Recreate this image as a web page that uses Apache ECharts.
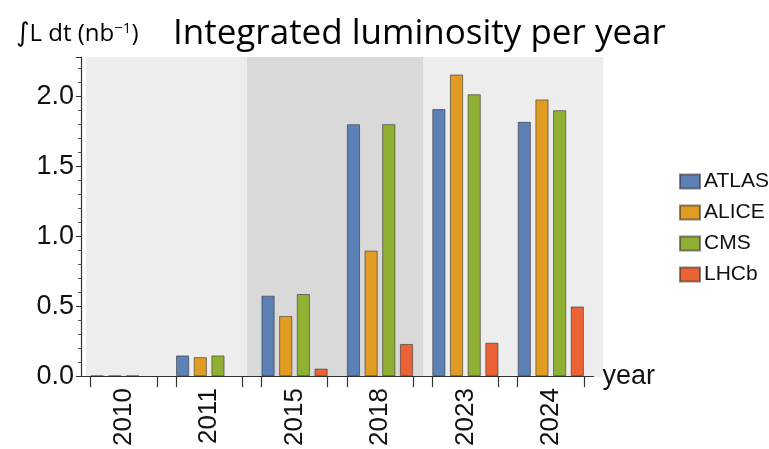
<!DOCTYPE html>
<html>
<head>
<meta charset="utf-8">
<script src="https://cdn.jsdelivr.net/npm/echarts@6/dist/echarts.min.js"></script>
<style>
  html, body { margin: 0; padding: 0; background: #fff; }
  #main { width: 769px; height: 449px; }
</style>
</head>
<body>
<div id="main"></div>
<script>
// data
var years = ['2010', '2011', '2015', '2018', '2023', '2024'];
var atlas = [0.003, 0.148, 0.575, 1.80, 1.908, 1.817];
var alice = [0.003, 0.136, 0.43, 0.897, 2.155, 1.977];
var cms   = [0.003, 0.148, 0.587, 1.80, 2.014, 1.90];
var lhcb  = [null, null, 0.054, 0.23, 0.239, 0.498];
var yTicks = [0, 0.5, 1.0, 1.5, 2.0];

var colors = ['#5e81b5', '#e19c24', '#8fb032', '#eb6235'];
var catGap = 0.225;

// ticks at the two edges of each bar group
var edgeTicks = [];
years.forEach(function (y, i) {
  edgeTicks.push(i + catGap / 2, i + 1 - catGap / 2);
});

var font = 'Liberation Sans, Arial, sans-serif';

function bar(name, data, color) {
  return {
    name: name,
    type: 'bar',
    data: data,
    barCategoryGap: (catGap * 100) + '%',
    barGap: '34%',
    itemStyle: { color: color, borderColor: 'rgba(40,40,40,0.55)', borderWidth: 1 }
  };
}

var myChart = echarts.init(document.getElementById('main'));
var option = {
  animation: false,
  title: [
    {
      text: 'Integrated luminosity per year',
      left: 168, top: 12,
      textStyle: { fontFamily: 'Open Sans', fontSize: 35, fontWeight: 'normal', color: '#000' }
    },
    {
      text: '{i|∫}{a|L dt (nb}{s|−1}{a|)}',
      left: 11, top: 16,
      textStyle: {
        rich: {
          i: { fontFamily: 'DejaVu Sans', fontSize: 26, fontWeight: 'normal', color: '#000' },
          a: { fontFamily: 'Open Sans', fontSize: 24, fontWeight: 'normal', color: '#000' },
          s: { fontFamily: 'Open Sans', fontSize: 15, fontWeight: 'normal', color: '#000', verticalAlign: 'top', padding: [0, 0, 12, 0] }
        }
      }
    }
  ],
  graphic: [
    { type: 'rect', z: -10, shape: { x: 86, y: 57, width: 517, height: 320 }, style: { fill: '#ededed' } },
    { type: 'rect', z: -9, shape: { x: 247, y: 57, width: 176, height: 320 }, style: { fill: '#d9d9d9' } }
  ],
  legend: {
    orient: 'vertical',
    left: 674, top: 166,
    itemWidth: 20, itemHeight: 14, itemGap: 10,
    icon: 'rect',
    textStyle: { fontFamily: font, fontSize: 21, color: '#111', padding: [0, 0, 0, -1] },
    data: ['ATLAS', 'ALICE', 'CMS', 'LHCb']
  },
  grid: { left: 81, right: 175.5, top: 57, bottom: 69, containLabel: false },
  xAxis: [
    {
      type: 'category',
      data: years,
      name: 'year',
      nameLocation: 'end',
      nameGap: 9,
      nameTextStyle: { fontFamily: font, fontSize: 27, color: '#111', verticalAlign: 'middle', padding: [4, 0, 0, 0] },
      axisLine: { lineStyle: { color: '#333', width: 1.2 } },
      axisTick: { show: false },
      axisLabel: { rotate: 90, margin: 12, fontFamily: font, fontSize: 26, color: '#111' }
    },
    {
      type: 'value',
      min: 0, max: years.length,
      position: 'bottom',
      axisLine: { show: false },
      splitLine: { show: false },
      axisLabel: { show: false, customValues: edgeTicks },
      axisTick: { show: true, inside: false, length: 11, customValues: edgeTicks, lineStyle: { color: '#333', width: 1.2 } }
    }
  ],
  yAxis: {
    type: 'value',
    min: 0, max: 2.28, interval: 0.5,
    axisLine: { show: true, lineStyle: { color: '#333', width: 1.2 } },
    axisTick: { show: true, length: 5, lineStyle: { color: '#333' } },
    minorTick: { show: true, splitNumber: 5, length: 3, lineStyle: { color: '#555' } },
    splitLine: { show: false },
    axisLabel: {
      margin: 7, fontFamily: font, fontSize: 27, color: '#111', showMaxLabel: false,
      formatter: function (v) { return yTicks.indexOf(v) >= 0 ? v.toFixed(1) : ''; }
    }
  },
  series: [
    bar('ATLAS', atlas, colors[0]),
    bar('ALICE', alice, colors[1]),
    bar('CMS', cms, colors[2]),
    bar('LHCb', lhcb, colors[3])
  ]
};
option && myChart.setOption(option);
</script>
</body>
</html>
